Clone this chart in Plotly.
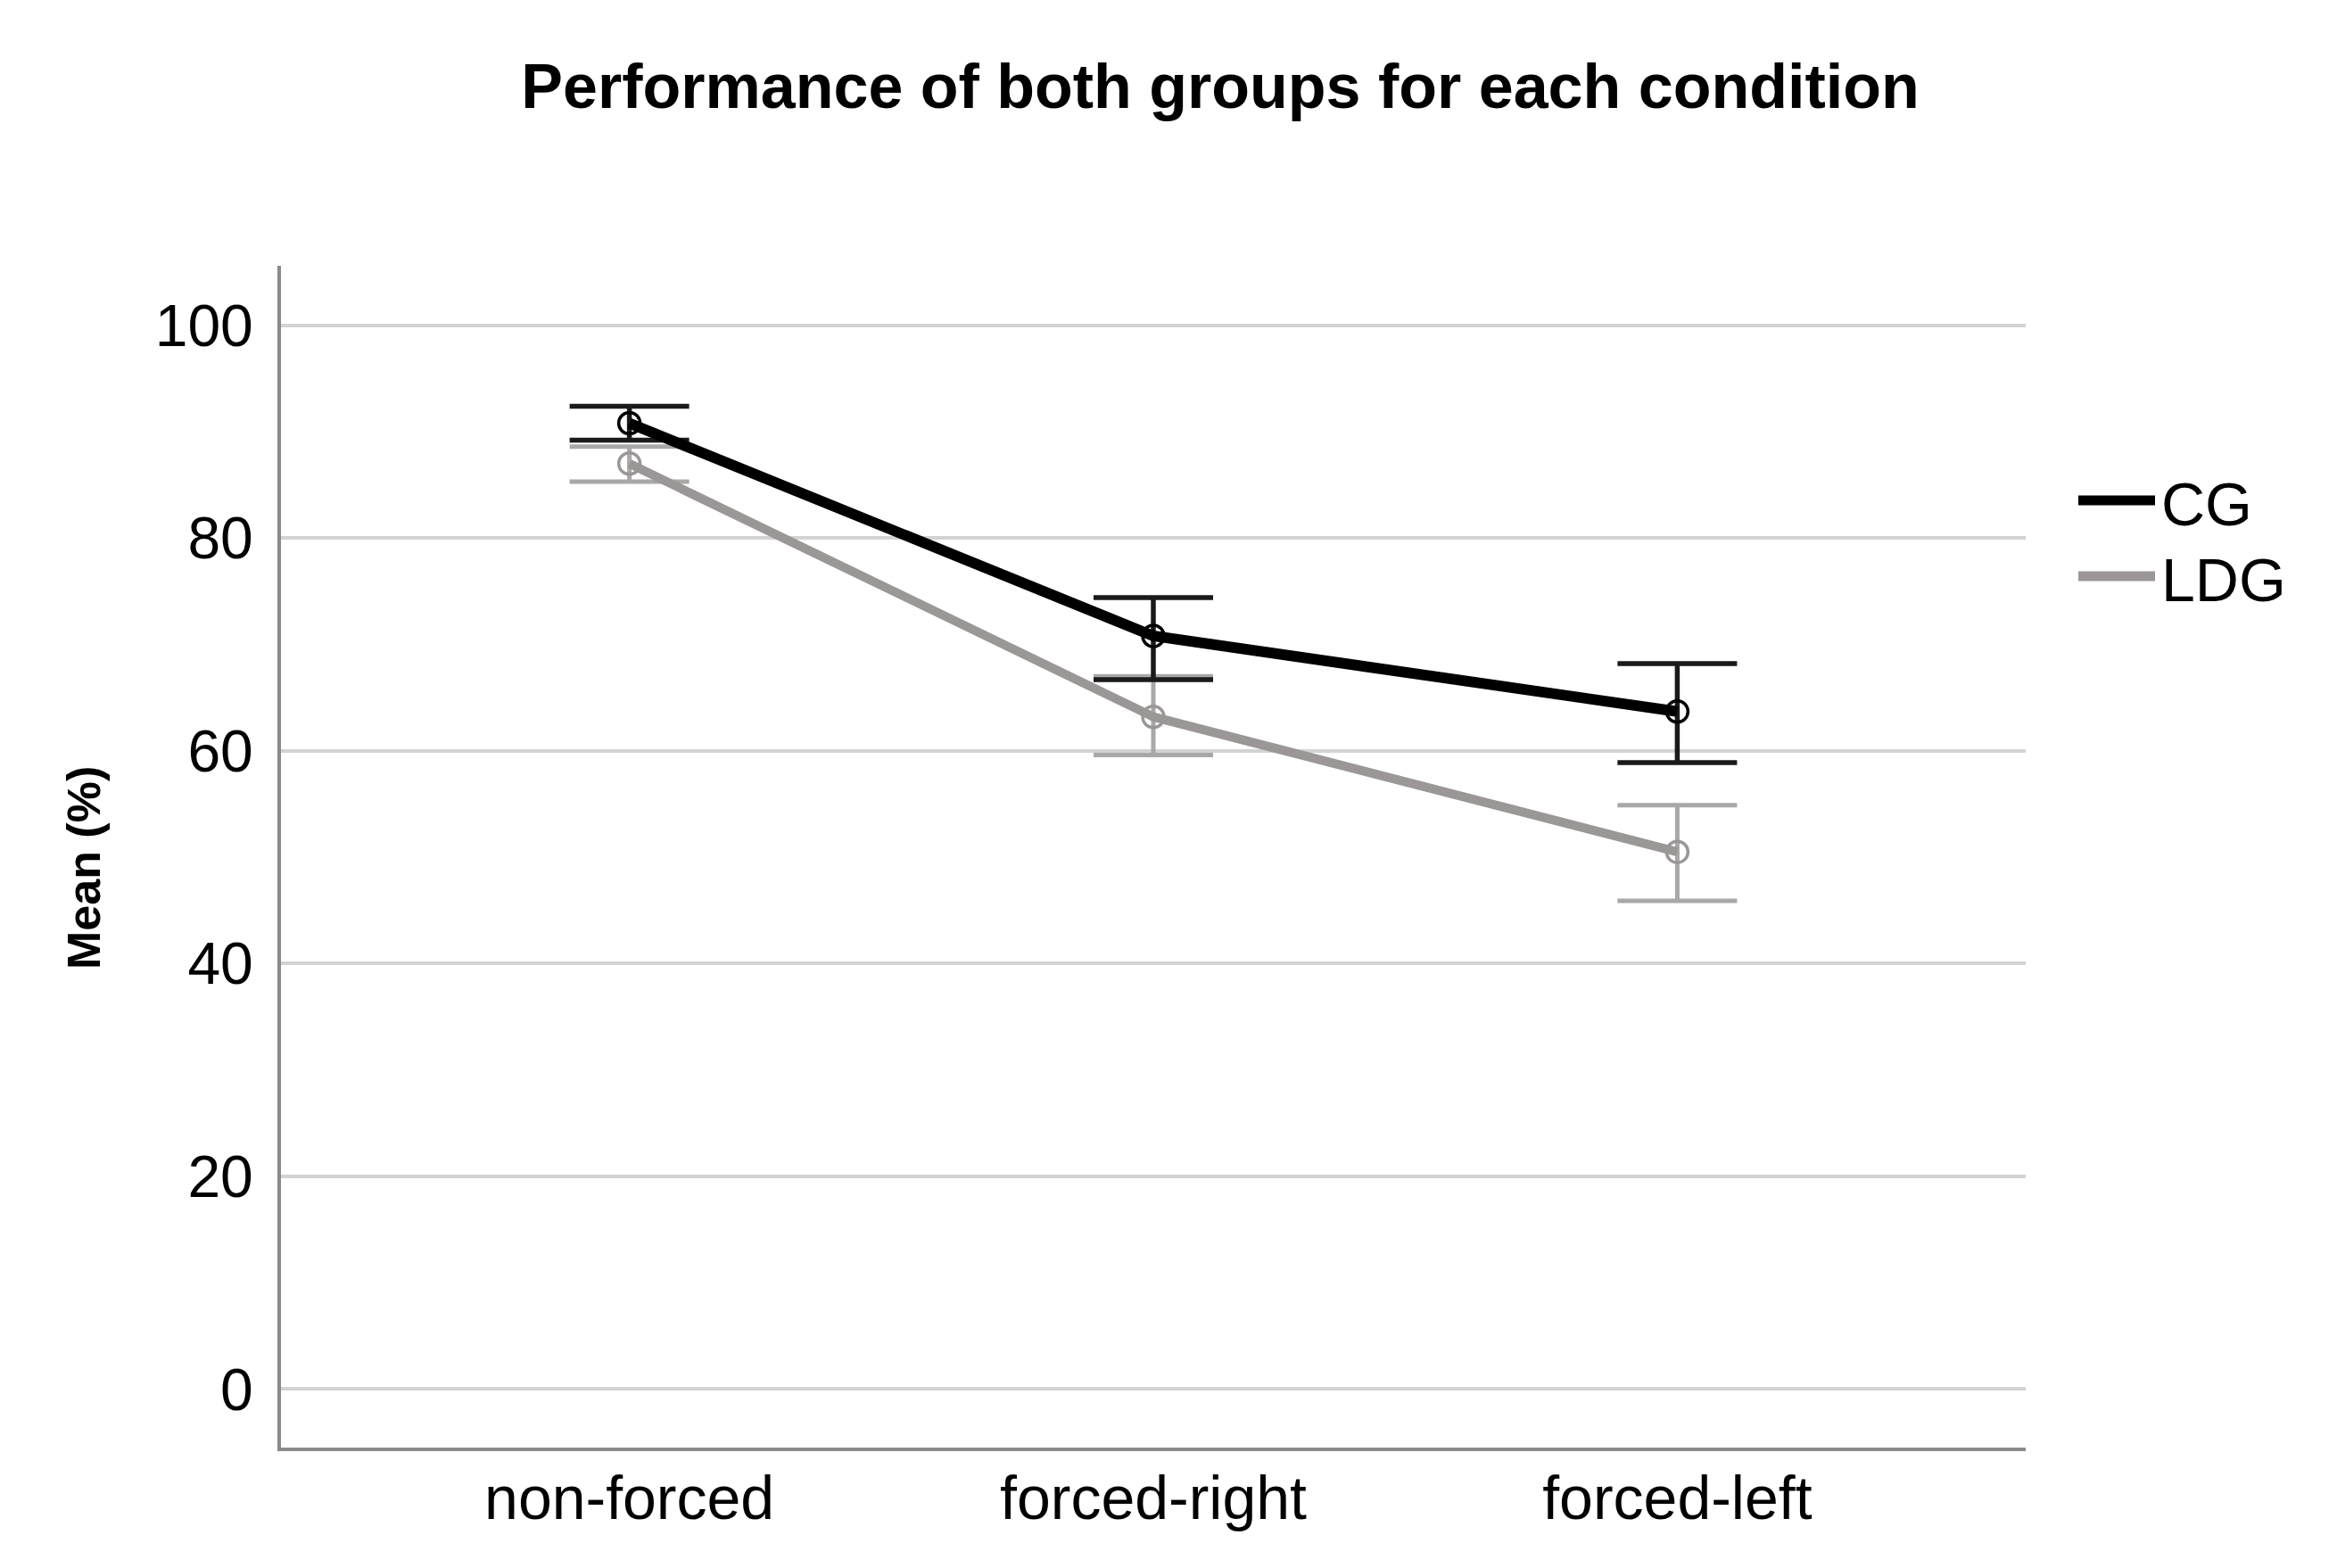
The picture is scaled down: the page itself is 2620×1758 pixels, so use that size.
import plotly.graph_objects as go

conditions = ["non-forced", "forced-right", "forced-left"]

cg_mean = [90.8, 70.8, 63.7]
cg_upper = [92.4, 74.4, 68.2]
cg_lower = [89.2, 66.7, 58.9]

ldg_mean = [87.0, 63.2, 50.5]
ldg_upper = [88.6, 67.0, 54.9]
ldg_lower = [85.3, 59.6, 45.9]

y_ticks = [0, 20, 40, 60, 80, 100]
groups = ["CG", "LDG"]

FONT = "Liberation Sans, Arial, sans-serif"
W, H = 2620, 1758
L, R, T, B = 307, 357, 290, 143

fig = go.Figure()

def add_group(name, mean, upper, lower, line_col, err_col, lw, et):
    fig.add_trace(go.Scatter(
        x=conditions, y=mean, name=name, mode="lines+markers",
        line=dict(color=line_col, width=lw),
        marker=dict(symbol="circle-open", size=24, color=line_col, line=dict(width=3.5)),
        error_y=dict(type="data", symmetric=False,
                     array=[u - m for u, m in zip(upper, mean)],
                     arrayminus=[m - l for m, l in zip(mean, lower)],
                     color=err_col, thickness=et, width=67),
        showlegend=False,
    ))

add_group(groups[1], ldg_mean, ldg_upper, ldg_lower, "#9b9797", "#aaa7a7", 10, 5)
add_group(groups[0], cg_mean, cg_upper, cg_lower, "#000000", "#1a1a1a", 12, 5.5)

# manual legend (long line swatches as in reference)
pw = W - L - R
ph = H - T - B
def px_x(x):
    return (x - L) / pw
def px_y(y):
    return (H - B - y) / ph

legend_items = [(groups[0], "#000000", 553), (groups[1], "#9b9797", 638)]
for name, col, yy in legend_items:
    fig.add_shape(type="line", xref="paper", yref="paper",
                  x0=px_x(2322), x1=px_x(2408), y0=px_y(yy), y1=px_y(yy),
                  line=dict(color=col, width=11))
    fig.add_annotation(xref="paper", yref="paper", x=px_x(2413), y=px_y(yy + 4),
                       text=name, showarrow=False, xanchor="left", yanchor="middle",
                       font=dict(family=FONT, size=68, color="#000000"))

fig.add_annotation(xref="paper", yref="paper", x=px_x(86), y=px_y(965),
                   text="<b>Mean (%)</b>", textangle=-90, showarrow=False,
                   xanchor="center", yanchor="middle",
                   font=dict(family=FONT, size=52, color="#000000"))

fig.update_layout(
    width=W, height=H,
    margin=dict(l=L, r=R, t=T, b=B),
    paper_bgcolor="white", plot_bgcolor="white",
    title=dict(text="<b>Performance of both groups for each condition</b>",
               x=1360 / W, xref="container", xanchor="center",
               y=1 - 88 / H, yref="container", yanchor="middle",
               font=dict(family=FONT, size=70, color="#000000")),
    font=dict(family=FONT, color="#000000"),
)

fig.update_xaxes(
    type="category", range=[-0.665, 2.665],
    showline=True, linecolor="#8a8a8a", linewidth=4,
    showgrid=False, ticks="", ticklabelstandoff=-6,
    tickfont=dict(family=FONT, size=68, color="#000000"),
)
fig.update_yaxes(
    range=[-5.5, 105.6], tickvals=y_ticks,
    showline=True, linecolor="#8a8a8a", linewidth=4,
    showgrid=True, gridcolor="#d3d3d3", gridwidth=4, zeroline=False,
    ticks="outside", ticklen=14, tickcolor="rgba(0,0,0,0)",
    tickfont=dict(family=FONT, size=66, color="#000000"),
)

fig.write_html("out.html")
